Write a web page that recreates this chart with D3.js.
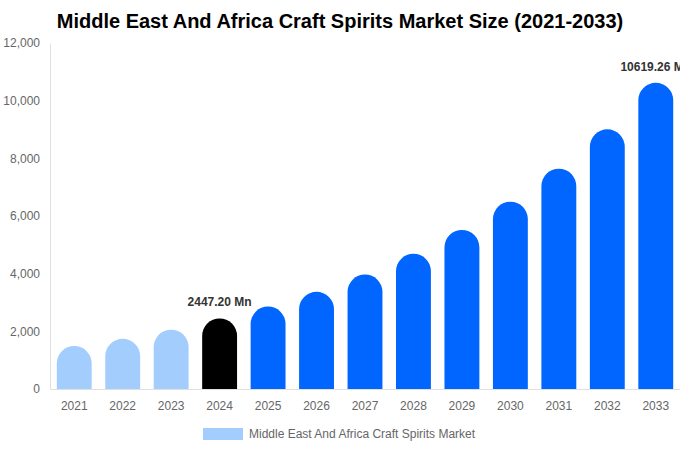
<!DOCTYPE html>
<html>
<head>
<meta charset="utf-8">
<script src="https://cdn.jsdelivr.net/npm/d3@7"></script>
<style>
  body { margin: 0; background: #fff; }
  svg { font-family: "Liberation Sans", Arial, sans-serif; }
</style>
</head>
<body>
<div id="chart"></div>
<script>
// Chart data
const years = ['2021', '2022', '2023', '2024', '2025', '2026', '2027', '2028', '2029', '2030', '2031', '2032', '2033'];
const values = [1490, 1740, 2055, 2447.20, 2860, 3370, 3970, 4690, 5515, 6495, 7640, 9005, 10619.26];
const yTicks = [0, 2000, 4000, 6000, 8000, 10000, 12000];
const labelled = { '2024': '2447.20 Mn', '2033': '10619.26 Mn' };

const width = 680, height = 450;
const margin = { top: 43, right: 0, bottom: 61, left: 50 };

const svg = d3.select('#chart').append('svg')
  .attr('width', width)
  .attr('height', height);

// Title
svg.append('text')
  .attr('x', width / 2)
  .attr('y', 28)
  .attr('text-anchor', 'middle')
  .style('font-size', '20px')
  .style('font-weight', 'bold')
  .attr('fill', '#000')
  .text('Middle East And Africa Craft Spirits Market Size (2021-2033)');

const x = d3.scaleBand()
  .domain(years)
  .range([margin.left, width - margin.right])
  .paddingInner(0.28)
  .paddingOuter(0.14);

const y = d3.scaleLinear()
  .domain([0, 12000])
  .range([height - margin.bottom, margin.top]);

// Y axis
const yAxis = svg.append('g')
  .attr('transform', `translate(${margin.left},0)`)
  .call(d3.axisLeft(y).tickValues(yTicks).tickFormat(d3.format(',')).tickSize(0).tickPadding(10));
yAxis.select('.domain').attr('stroke', '#e0e0e0');
yAxis.selectAll('text').attr('fill', '#666').style('font-size', '12px');

// X axis
const xAxis = svg.append('g')
  .attr('transform', `translate(0,${height - margin.bottom})`)
  .call(d3.axisBottom(x).tickSize(0).tickPadding(12));
xAxis.select('.domain').attr('stroke', '#e0e0e0');
xAxis.selectAll('text').attr('fill', '#666').style('font-size', '12px');

// Bars with rounded tops
function color(d) {
  if (+d < 2024) return '#a2cdfd';
  if (d === '2024') return '#000000';
  return '#0066ff';
}

function barPath(year, v) {
  const x0 = x(year), w = x.bandwidth(), r = w / 2;
  const y0 = y(0), yt = y(v);
  return `M${x0},${y0} L${x0},${yt + r} A${r},${r} 0 0 1 ${x0 + w},${yt + r} L${x0 + w},${y0} Z`;
}

svg.append('g')
  .selectAll('path')
  .data(years)
  .enter().append('path')
  .attr('d', (d, i) => barPath(d, values[i]))
  .attr('fill', d => color(d));

// Value labels
svg.append('g')
  .selectAll('text')
  .data(years.filter(d => labelled[d]))
  .enter().append('text')
  .attr('x', d => x(d) + x.bandwidth() / 2)
  .attr('y', d => y(values[years.indexOf(d)]) - 12)
  .attr('text-anchor', 'middle')
  .attr('fill', '#333')
  .style('font-size', '12px')
  .style('font-weight', 'bold')
  .text(d => labelled[d]);

// Legend
svg.append('rect')
  .attr('x', 203).attr('y', 428)
  .attr('width', 40).attr('height', 12)
  .attr('fill', '#a2cdfd');
svg.append('text')
  .attr('x', 249).attr('y', 438)
  .attr('fill', '#666')
  .style('font-size', '12px')
  .text('Middle East And Africa Craft Spirits Market');
</script>
</body>
</html>
